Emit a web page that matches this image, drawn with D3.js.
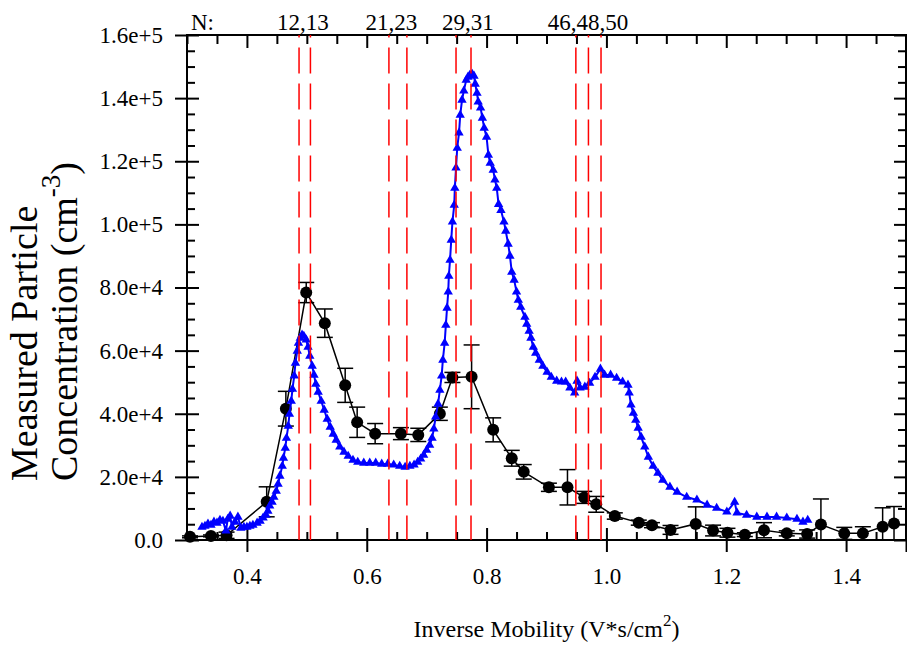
<!DOCTYPE html>
<html>
<head>
<meta charset="utf-8">
<script src="https://cdn.jsdelivr.net/npm/d3@7"></script>
<style>
  body { margin: 0; background: #fff; }
  svg { display: block; font-family: "Liberation Serif", "Times New Roman", serif; }
</style>
</head>
<body>
<svg id="chart" width="907" height="655"></svg>
<script>
// measured concentration (black circles with error bars)
const measX = [0.305, 0.340, 0.366, 0.433, 0.465, 0.499, 0.530, 0.564, 0.584, 0.614, 0.657, 0.686, 0.722,
  0.743, 0.775, 0.811, 0.842, 0.862, 0.904, 0.935, 0.963, 0.983, 1.014, 1.054, 1.076, 1.107, 1.149,
  1.178, 1.202, 1.231, 1.263, 1.301, 1.335, 1.358, 1.397, 1.428, 1.461, 1.480];
const measY = [1000, 1300, 1500, 12100, 41600, 78400, 68700, 49000, 37300, 33700, 33700, 33300, 40000,
  51500, 51700, 34900, 25900, 21600, 16700, 16700, 13500, 11300, 7600, 5500, 4700, 3200, 5100,
  3000, 2300, 1700, 3100, 2100, 1900, 4900, 2100, 2100, 4200, 5200];
const measErr = [300, 300, 1000, 4750, 5500, 3200, 4500, 5400, 4800, 3200, 1900, 2100, 2100,
  1600, 10100, 3800, 2500, 2300, 1300, 5600, 1900, 2500, 1000, 800, 800, 1400, 5400,
  1700, 1400, 600, 2400, 800, 1300, 8100, 1900, 2100, 6000, 5400];

// simulated spectrum (blue triangles)
const simX = [0.325, 0.330, 0.335, 0.340, 0.345, 0.350, 0.355, 0.360, 0.365, 0.368,
  0.372, 0.375, 0.380, 0.385, 0.390, 0.395, 0.400, 0.405, 0.410, 0.417,
  0.422, 0.427, 0.432, 0.435, 0.438, 0.442, 0.445, 0.449, 0.452, 0.455,
  0.459, 0.461, 0.464, 0.466, 0.469, 0.471, 0.474, 0.476, 0.479, 0.481,
  0.484, 0.486, 0.489, 0.492, 0.495, 0.499, 0.502, 0.505, 0.509, 0.512,
  0.515, 0.519, 0.524, 0.529, 0.534, 0.539, 0.544, 0.549, 0.555, 0.562,
  0.569, 0.577, 0.585, 0.595, 0.605, 0.615, 0.625, 0.635, 0.645, 0.655,
  0.664, 0.672, 0.679, 0.685, 0.690, 0.695, 0.700, 0.705, 0.709, 0.712,
  0.715, 0.719, 0.722, 0.725, 0.727, 0.730, 0.732, 0.734, 0.736, 0.737,
  0.739, 0.741, 0.743, 0.746, 0.747, 0.749, 0.751, 0.754, 0.756, 0.759,
  0.762, 0.766, 0.769, 0.772, 0.776, 0.779, 0.781, 0.784, 0.786, 0.790,
  0.793, 0.796, 0.800, 0.803, 0.806, 0.811, 0.814, 0.817, 0.820, 0.824,
  0.829, 0.832, 0.836, 0.839, 0.842, 0.846, 0.850, 0.853, 0.857, 0.864,
  0.867, 0.871, 0.874, 0.878, 0.882, 0.888, 0.894, 0.901, 0.908, 0.917,
  0.925, 0.932, 0.939, 0.947, 0.951, 0.956, 0.964, 0.972, 0.981, 0.990,
  0.997, 1.007, 1.017, 1.027, 1.036, 1.038, 1.041, 1.045, 1.049, 1.053,
  1.058, 1.064, 1.070, 1.078, 1.086, 1.094, 1.106, 1.118, 1.134, 1.151,
  1.168, 1.184, 1.201, 1.214, 1.218, 1.234, 1.251, 1.268, 1.284, 1.301,
  1.318, 1.328, 1.336];
const simY = [4100, 4400, 5100, 4700, 5700, 5400, 6300, 6000, 2900, 6600,
  7600, 4100, 5700, 7300, 3800, 4100, 4100, 4400, 4700, 5400,
  6000, 7000, 7900, 9200, 10800, 12000, 13600, 15500, 17700, 20300,
  23400, 26000, 29100, 32300, 36100, 39900, 44000, 47800, 52000, 56100,
  59900, 62400, 64000, 65000, 64600, 63400, 61100, 58300, 55100, 52300,
  49400, 46900, 44000, 41200, 38300, 35800, 33600, 31700, 29500, 27900,
  26600, 25300, 24700, 24400, 24400, 24400, 24100, 24100, 23800, 23400,
  23100, 23400, 23800, 24700, 25700, 26900, 28500, 30100, 32300, 35200,
  39000, 43100, 47500, 52000, 57000, 62400, 68100, 73500, 78600, 83600,
  88700, 95000, 100800, 106100, 111500, 117900, 124200, 129000, 134600, 139400,
  142300, 145700, 146700, 147300, 147600, 147000, 144500, 141600, 138800, 136900,
  133700, 130500, 127700, 122000, 119400, 117200, 114100, 111500, 106400, 104500,
  100800, 97900, 93800, 90000, 84900, 82400, 78600, 76000, 73800, 70600,
  68400, 66200, 64000, 61100, 59200, 57000, 55100, 53200, 51600, 50400,
  50100, 50100, 48200, 46600, 50400, 48200, 48500, 49700, 51600, 54200,
  52300, 52300, 51300, 50100, 49100, 46600, 42800, 40200, 38000, 35500,
  32600, 29500, 26300, 23400, 21200, 19000, 16800, 15200, 13600, 12700,
  11100, 10100, 8900, 12000, 8600, 7900, 7300, 7300, 7300, 7000,
  6600, 5700, 6300];

// cluster sizes N marked with red dashed lines
const markX = [0.487, 0.506, 0.637, 0.667, 0.749, 0.774, 0.949, 0.970, 0.991];
const markLabels = ['12,13', '21,23', '29,31', '46,48,50'];
const markLabelX = [0.4936, 0.6412, 0.7689, 0.9691];

const xTicks = [0.4, 0.6, 0.8, 1.0, 1.2, 1.4, 1.5];
const xTickLabels = ['0.4', '0.6', '0.8', '1.0', '1.2', '1.4', ''];
const yTicks = [0, 20000, 40000, 60000, 80000, 100000, 120000, 140000, 160000];
const yTickLabels = ['0.0', '2.0e+4', '4.0e+4', '6.0e+4', '8.0e+4', '1.0e+5', '1.2e+5', '1.4e+5', '1.6e+5'];

const svg = d3.select('#chart');
const pLeft = 187, pRight = 906, pTop = 35, pBottom = 540;

const x = d3.scaleLinear().domain([0.3, 1.5]).range([pLeft, pRight]);
const y = d3.scaleLinear().domain([0, 160000]).range([pBottom, pTop]);

const xMinor = d3.range(0.3, 1.5001, 0.05).filter((v) => !xTicks.some((t) => Math.abs(t - v) < 1e-6));
const yMinor = d3.range(0, 160001, 5000).filter((v) => v % 20000 !== 0);

function styleAxis(g) {
  g.select('.domain').remove();
  g.selectAll('line').attr('stroke', '#000').attr('stroke-width', 2);
  g.selectAll('text').attr('font-size', 23).attr('fill', '#000')
    .attr('font-family', '"Liberation Serif", "Times New Roman", serif');
}

// frame
svg.append('rect').attr('x', pLeft).attr('y', pTop)
  .attr('width', pRight - pLeft).attr('height', pBottom - pTop)
  .attr('fill', 'none').attr('stroke', '#000').attr('stroke-width', 2);

// bottom axis: labelled majors outward, ticks inward
svg.append('g').attr('transform', `translate(0,${pBottom})`)
  .call(d3.axisBottom(x).tickValues(xTicks).tickFormat((d, i) => xTickLabels[i]).tickSize(12).tickPadding(16))
  .call(styleAxis);
svg.append('g').attr('transform', `translate(0,${pBottom})`)
  .call(d3.axisTop(x).tickValues(xTicks).tickFormat('').tickSize(12)).call(styleAxis);
svg.append('g').attr('transform', `translate(0,${pBottom})`)
  .call(d3.axisTop(x).tickValues(xMinor).tickFormat('').tickSize(8)).call(styleAxis);

// top axis, inward only
svg.append('g').attr('transform', `translate(0,${pTop})`)
  .call(d3.axisBottom(x).tickValues(xTicks).tickFormat('').tickSize(13)).call(styleAxis);
svg.append('g').attr('transform', `translate(0,${pTop})`)
  .call(d3.axisBottom(x).tickValues(xMinor).tickFormat('').tickSize(9)).call(styleAxis);

// left axis
svg.append('g').attr('transform', `translate(${pLeft},0)`)
  .call(d3.axisLeft(y).tickValues(yTicks).tickFormat((d, i) => yTickLabels[i]).tickSize(12).tickPadding(12))
  .call(styleAxis);
svg.append('g').attr('transform', `translate(${pLeft},0)`)
  .call(d3.axisRight(y).tickValues(yTicks).tickFormat('').tickSize(12)).call(styleAxis);
svg.append('g').attr('transform', `translate(${pLeft},0)`)
  .call(d3.axisRight(y).tickValues(yMinor).tickFormat('').tickSize(8)).call(styleAxis);

// right axis, inward only
svg.append('g').attr('transform', `translate(${pRight},0)`)
  .call(d3.axisLeft(y).tickValues(yTicks).tickFormat('').tickSize(12)).call(styleAxis);
svg.append('g').attr('transform', `translate(${pRight},0)`)
  .call(d3.axisLeft(y).tickValues(yMinor).tickFormat('').tickSize(8)).call(styleAxis);

// measured series
const meas = measX.map((v, i) => ({ x: v, y: measY[i], e: measErr[i] }));
const bars = svg.append('g').attr('stroke', '#000').attr('stroke-width', 1.5);
meas.forEach((d) => {
  const lo = Math.max(0, d.y - d.e);
  const hi = d.y + d.e;
  bars.append('line').attr('x1', x(d.x)).attr('x2', x(d.x)).attr('y1', y(lo)).attr('y2', y(hi));
  bars.append('line').attr('x1', x(d.x) - 8).attr('x2', x(d.x) + 8).attr('y1', y(hi)).attr('y2', y(hi));
  if (d.y - d.e > 0) {
    bars.append('line').attr('x1', x(d.x) - 8).attr('x2', x(d.x) + 8).attr('y1', y(lo)).attr('y2', y(lo));
  }
});
svg.append('path').datum(meas)
  .attr('fill', 'none').attr('stroke', '#000').attr('stroke-width', 1.5)
  .attr('d', d3.line().x((d) => x(d.x)).y((d) => y(d.y)));
svg.append('g').selectAll('circle').data(meas).join('circle')
  .attr('cx', (d) => x(d.x)).attr('cy', (d) => y(d.y)).attr('r', 6).attr('fill', '#000');

// simulated series
const sim = simX.map((v, i) => ({ x: v, y: simY[i] }));
svg.append('path').datum(sim)
  .attr('fill', 'none').attr('stroke', '#0000ff').attr('stroke-width', 2)
  .attr('d', d3.line().x((d) => x(d.x)).y((d) => y(d.y)));
const tri = d3.symbol().type(d3.symbolTriangle).size(38);
svg.append('g').selectAll('path').data(sim).join('path')
  .attr('transform', (d) => `translate(${x(d.x)},${y(d.y)})`)
  .attr('d', tri).attr('fill', '#0000ff');

// red dashed markers
svg.append('g').selectAll('line').data(markX).join('line')
  .attr('x1', (d) => x(d)).attr('x2', (d) => x(d))
  .attr('y1', pTop).attr('y2', pBottom)
  .attr('stroke', '#ff0000').attr('stroke-width', 1.5)
  .attr('stroke-dasharray', '26,10').attr('stroke-dashoffset', 23.5);

// N labels above the frame
svg.append('text').attr('x', 191).attr('y', 30).attr('font-size', 23).text('N:');
svg.append('g').selectAll('text').data(markLabels).join('text')
  .attr('x', (d, i) => x(markLabelX[i])).attr('y', 30)
  .attr('text-anchor', 'middle').attr('font-size', 23).text((d) => d);

// axis titles
const xt = svg.append('text').attr('x', (pLeft + pRight) / 2).attr('y', 637)
  .attr('text-anchor', 'middle').attr('font-size', 24);
xt.append('tspan').text('Inverse Mobility (V*s/cm');
xt.append('tspan').attr('font-size', 17).attr('dy', -11).text('2');
xt.append('tspan').attr('dy', 11).text(')');

const yt = svg.append('g').attr('transform', 'translate(0,481) rotate(-90)');
yt.append('text').attr('x', 0).attr('y', 37).attr('font-size', 38).text('Measured Particle');
const yt2 = yt.append('text').attr('x', 0).attr('y', 77).attr('font-size', 38);
yt2.append('tspan').text('Concentration (cm');
yt2.append('tspan').attr('font-size', 27).attr('dy', -17).text('-3');
yt2.append('tspan').attr('dy', 17).text(')');
</script>
</body>
</html>
